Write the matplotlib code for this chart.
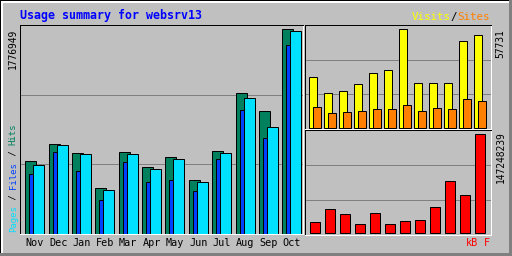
import numpy as np
import matplotlib
matplotlib.use('Agg')
import matplotlib.pyplot as plt
from matplotlib.patches import Rectangle

months = ['Nov', 'Dec', 'Jan', 'Feb', 'Mar', 'Apr', 'May', 'Jun', 'Jul', 'Aug', 'Sep', 'Oct']
hits = [631100, 778700, 700500, 396700, 709200, 579000, 668400, 466100, 717900, 1221400, 1065100, 1776949]
files = [518200, 709200, 544300, 292500, 622400, 448800, 466100, 370700, 648500, 1073800, 830700, 1638100]
pages = [596400, 770000, 691900, 379400, 691900, 561700, 648500, 448800, 700500, 1178000, 926200, 1759600]
visits = [29660, 20300, 21470, 25560, 31990, 33750, 57731, 26150, 26150, 26150, 50710, 54220]
sites = [12110, 8600, 9180, 9770, 10940, 10940, 13280, 9770, 11520, 10940, 16790, 15620]
kbytes = [15962000, 35357000, 27900000, 12980000, 29390000, 12980000, 17450000, 18950000,
          38340000, 77130000, 56240000, 147248239]

BG = '#c0c0c0'
MONO = 'DejaVu Sans Mono'
W, H = 512, 256
PX = 0.72  # one pixel in points

fig = plt.figure(figsize=(5.12, 2.56), dpi=100, facecolor=BG)


def rect(x, y, w, h, color):
    fig.patches.append(Rectangle((x / W, 1 - (y + h) / H), w / W, h / H,
                                 transform=fig.transFigure, color=color, lw=0))


def ftext(x, y, s, **kw):
    kw.setdefault('family', MONO)
    fig.text(x / W, 1 - y / H, s, **kw)


def panel(l, t, r, b):
    ax = fig.add_axes([l / W, 1 - b / H, (r - l) / W, (b - t) / H])
    ax.set_facecolor(BG)
    for side in ('top', 'left'):
        ax.spines[side].set_color('black')
    for side in ('bottom', 'right'):
        ax.spines[side].set_color('white')
    for s in ax.spines.values():
        s.set_linewidth(PX)
    ax.set_yticks([])
    ax.set_xticks([])
    for f in (1 / 3, 2 / 3):
        ax.plot([0, 1], [f, f], transform=ax.transAxes, color='#808080', lw=PX, zorder=0.5)
    return ax


# outer bevel
rect(0, 0, W, 1, 'black')
rect(0, 0, 1, H, 'black')
rect(1, 1, W - 2, 2, 'white')
rect(1, 1, 2, H - 2, 'white')
rect(0, H - 3, W, 3, '#808080')
rect(W - 3, 0, 3, H, '#808080')

x = np.arange(len(months))
edge = dict(edgecolor='black', linewidth=PX)

# hits / files / pages
ax = panel(20, 25, 303, 234)
slot = 23.36
ax.bar(x - 4 / slot, hits, 11 / slot, color='#00805c', zorder=2, **edge)
ax.bar(x - 3.5 / slot, files, 4 / slot, color='#0040ff', zorder=3, **edge)
ax.bar(x + 4 / slot, pages, 11 / slot, color='#00e0ff', zorder=4, **edge)
ax.set_xlim(-14.8 / slot, 268.2 / slot)
ax.set_ylim(0, max(hits) * 1.021)
ax.set_xticks(x, months, family=MONO, fontsize=7.3)
ax.tick_params(axis='x', length=0, pad=3)

# visits / sites
ax2 = panel(305, 25, 491, 129)
ax2.bar(x - 2 / 15, visits, 7.4 / 15, color='#ffff00', zorder=2, **edge)
ax2.bar(x + 2 / 15, sites, 7.4 / 15, color='#ff8000', zorder=3, **edge)
ax2.set_xlim(-10 / 15, 176 / 15)
ax2.set_ylim(-max(visits) * 0.0101, max(visits) * 1.0436)

# kbytes
ax3 = panel(305, 130, 491, 235)
ax3.bar(x, kbytes, 9.4 / 15, color='#ff0000', zorder=2, **edge)
ax3.set_xlim(-10 / 15, 176 / 15)
ax3.set_ylim(-max(kbytes) * 0.020, max(kbytes) * 1.0436)

# texts
ftext(20, 15.5, 'Usage summary for websrv13', color='#0000ff', fontsize=8.4,
      fontweight='bold', ha='left', va='center')

fs = 7.8
cw = fs / PX * 0.602
ftext(490, 17, 'Sites', color='#ff8000', fontsize=fs, ha='right', va='center')
ftext(490 - 5 * cw, 17, '/', color='black', fontsize=fs, ha='right', va='center')
ftext(490 - 6 * cw, 17, 'Visits', color='#ffff00', fontsize=fs, ha='right', va='center')

fs = 7.3
cw = fs / PX * 0.602
ftext(490, 243, 'F', color='#ff0000', fontsize=fs, ha='right', va='center')
ftext(490 - 2 * cw, 243, 'kB', color='#ff0000', fontsize=fs, ha='right', va='center')

fs = 6.9
ftext(13.3, 28.3, str(max(hits)), color='black', fontsize=fs, rotation=90, ha='center', va='top')
ftext(500.5, 29.3, str(max(visits)), color='black', fontsize=fs, rotation=90, ha='center', va='top')
ftext(500.5, 131.7, str(max(kbytes)), color='black', fontsize=fs, rotation=90, ha='center', va='top')

fs = 6.5
cw = fs / PX * 0.602
y0 = 232
for s, c in [('Pages', '#00e0ff'), (' / ', 'black'), ('Files', '#0040ff'),
             (' / ', 'black'), ('Hits', '#00805c')]:
    ftext(13.3, y0, s, color=c, fontsize=fs, rotation=90, ha='center', va='bottom')
    y0 -= len(s) * cw

fig.savefig('out.png', dpi=100, facecolor=BG)
